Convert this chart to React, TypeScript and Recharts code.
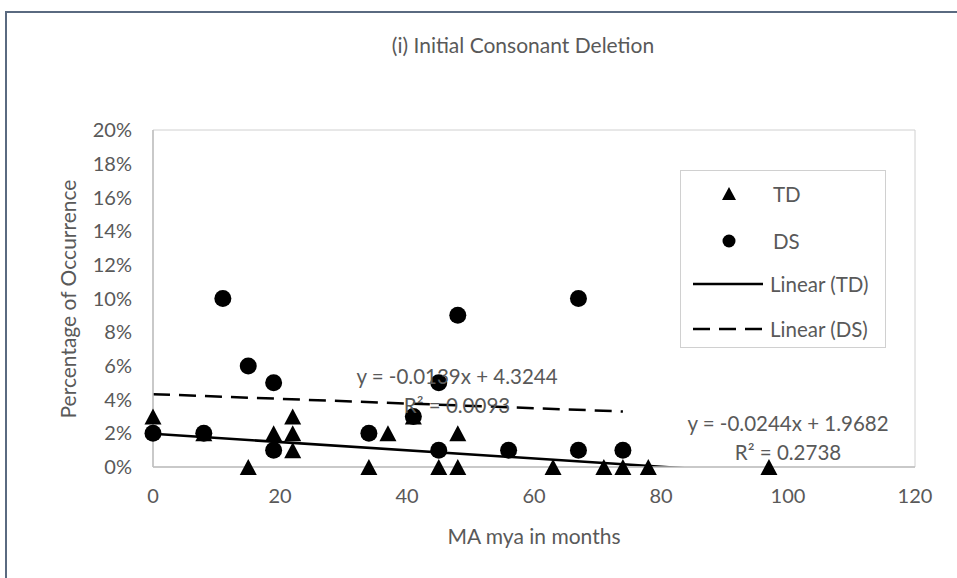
import React from "react";
import { ScatterChart, Scatter, XAxis, YAxis, ReferenceArea, ReferenceLine } from "recharts";

// age (months) and percentage of occurrence for each group
const tdAge = [0, 8, 15, 19, 22, 22, 22, 34, 37, 41, 45, 48, 48, 63, 71, 74, 78, 97];
const tdPct = [3, 2, 0, 2, 3, 2, 1, 0, 2, 3, 0, 2, 0, 0, 0, 0, 0, 0];
const dsAge = [0, 8, 11, 15, 19, 19, 34, 41, 45, 45, 48, 56, 67, 67, 74];
const dsPct = [2, 2, 10, 6, 5, 1, 2, 3, 5, 1, 9, 1, 10, 1, 1];

const xTicks = [0, 20, 40, 60, 80, 100, 120];
const yTicks = [0, 2, 4, 6, 8, 10, 12, 14, 16, 18, 20];

// linear trendline fits as printed on the chart
const tdFit = { slope: -0.0244, intercept: 1.9682, r2: 0.2738 };
const dsFit = { slope: -0.0139, intercept: 4.3244, r2: 0.0093 };

const FONT = "Lato, 'Open Sans', sans-serif";
const TEXT = "#595959";

const W = 957;
const H = 578;
const PLOT = { left: 153, right: 915, top: 130, bottom: 467 };

type Fit = { slope: number; intercept: number; r2: number };

const zip = (xs: number[], ys: number[]) => xs.map((x, i) => ({ x, y: ys[i] }));

// trendline spans the series' x range; the plot clip trims it at y = 0
const fitSegment = (fit: Fit, xs: number[]) => {
  const x0 = Math.min(...xs);
  const x1 = Math.max(...xs);
  return [
    { x: x0, y: fit.slope * x0 + fit.intercept },
    { x: x1, y: fit.slope * x1 + fit.intercept },
  ];
};

const fmtEq = (fit: Fit) =>
  `y = ${fit.slope.toFixed(4)}x + ${fit.intercept.toFixed(4)}`;

const tdPoints = zip(tdAge, tdPct);
const dsPoints = zip(dsAge, dsPct);
const tdLine = fitSegment(tdFit, tdAge);
const dsLine = fitSegment(dsFit, dsAge);

const TriangleMark = (props: any) => {
  const { cx, cy } = props;
  return (
    <path
      d={`M${cx},${cy - 8} L${cx + 8.5},${cy + 8} L${cx - 8.5},${cy + 8} Z`}
      fill="#000"
    />
  );
};

const CircleMark = (props: any) => {
  const { cx, cy } = props;
  return <circle cx={cx} cy={cy} r={8.5} fill="#000" />;
};

const legendRows = [
  { label: "TD", kind: "tri", y: 193 },
  { label: "DS", kind: "dot", y: 240 },
  { label: "Linear (TD)", kind: "solid", y: 283 },
  { label: "Linear (DS)", kind: "dash", y: 328 },
];

const ChartLegend = () => (
  <div
    style={{
      position: "absolute",
      left: 680,
      top: 170,
      width: 206,
      height: 178,
      border: "1px solid #d0d0d0",
      boxSizing: "border-box",
      background: "#fff",
    }}
  >
    {legendRows.map((r) => (
      <div
        key={r.label}
        style={{
          position: "absolute",
          left: 0,
          top: r.y - 170 - 14,
          height: 28,
          width: 206,
        }}
      >
        <svg width={90} height={28} style={{ position: "absolute", left: 0, top: 0 }}>
          {r.kind === "tri" && <path d="M48,7 L55,20 L41,20 Z" fill="#000" />}
          {r.kind === "dot" && <circle cx={48} cy={14} r={6.5} fill="#000" />}
          {r.kind === "solid" && (
            <line x1={12} x2={82} y1={14} y2={14} stroke="#000" strokeWidth={2.5} />
          )}
          {r.kind === "dash" && (
            <line
              x1={12}
              x2={82}
              y1={14}
              y2={14}
              stroke="#000"
              strokeWidth={2.5}
              strokeDasharray="17 9"
            />
          )}
        </svg>
        <span
          style={{
            position: "absolute",
            left: r.kind === "solid" || r.kind === "dash" ? 89 : 92,
            top: 0,
            lineHeight: "28px",
            fontSize: 20.5,
            color: TEXT,
            whiteSpace: "nowrap",
          }}
        >
          {r.label}
        </span>
      </div>
    ))}
  </div>
);

const FitLabel = ({ fit, cx, y }: { fit: Fit; cx: number; y: number }) => (
  <div
    style={{
      position: "absolute",
      left: cx - 150,
      top: y - 14,
      width: 300,
      textAlign: "center",
      fontSize: 20.5,
      lineHeight: "29px",
      color: TEXT,
    }}
  >
    <div>{fmtEq(fit)}</div>
    <div>R² = {fit.r2.toFixed(4)}</div>
  </div>
);

export default function App() {
  return (
    <div
      style={{
        position: "absolute",
        left: 0,
        top: 0,
        width: W,
        height: H,
        background: "#fff",
        overflow: "hidden",
        fontFamily: FONT,
      }}
    >
      {/* chart frame */}
      <div
        style={{
          position: "absolute",
          left: 5,
          top: 11,
          width: 1200,
          height: 1200,
          borderLeft: "2px solid #5a6a80",
          borderTop: "2px solid #5a6a80",
        }}
      />

      <div
        style={{
          position: "absolute",
          left: 0,
          top: 32,
          width: 1046,
          textAlign: "center",
          fontSize: 21,
          color: TEXT,
        }}
      >
        (i) Initial Consonant Deletion
      </div>

      <ScatterChart
        width={W}
        height={H}
        margin={{ top: PLOT.top, right: W - PLOT.right, left: PLOT.left - 60, bottom: H - PLOT.bottom - 40 }}
        style={{ position: "absolute", left: 0, top: 0 }}
      >
        <XAxis
          type="number"
          dataKey="x"
          domain={[0, 120]}
          ticks={xTicks}
          height={40}
          tickLine={false}
          tickSize={0}
          tickMargin={22}
          axisLine={{ stroke: "#bfbfbf", strokeWidth: 1.5 }}
          tick={{ fill: TEXT, fontSize: 20, fontFamily: FONT }}
        />
        <YAxis
          type="number"
          dataKey="y"
          domain={[0, 20]}
          ticks={yTicks}
          width={60}
          tickLine={false}
          tickSize={0}
          tickMargin={21}
          tickFormatter={(v: number) => `${v}%`}
          axisLine={{ stroke: "#bfbfbf", strokeWidth: 1.5 }}
          tick={{ fill: TEXT, fontSize: 20, fontFamily: FONT }}
        />
        <ReferenceArea
          x1={0}
          x2={120}
          y1={0}
          y2={20}
          fill="none"
          stroke="#d0d0d0"
          strokeWidth={1}
        />
        <Scatter
          name="TD"
          data={tdPoints}
          shape={TriangleMark}
          isAnimationActive={false}
        />
        <Scatter
          name="DS"
          data={dsPoints}
          shape={CircleMark}
          isAnimationActive={false}
        />
        <ReferenceLine
          segment={tdLine}
          ifOverflow="hidden"
          stroke="#000"
          strokeWidth={2.5}
        />
        <ReferenceLine
          segment={dsLine}
          ifOverflow="hidden"
          stroke="#000"
          strokeWidth={2.5}
          strokeDasharray="17 9"
        />
      </ScatterChart>

      <div
        style={{
          position: "absolute",
          left: 68 - 150,
          top: (PLOT.top + PLOT.bottom) / 2 - 14,
          width: 300,
          height: 28,
          lineHeight: "28px",
          textAlign: "center",
          transform: "rotate(-90deg)",
          fontSize: 21,
          color: TEXT,
          whiteSpace: "nowrap",
        }}
      >
        Percentage of Occurrence
      </div>

      <div
        style={{
          position: "absolute",
          left: PLOT.left,
          top: 523,
          width: PLOT.right - PLOT.left,
          textAlign: "center",
          fontSize: 21,
          color: TEXT,
        }}
      >
        MA mya in months
      </div>

      <FitLabel fit={dsFit} cx={457} y={376} />
      <FitLabel fit={tdFit} cx={788} y={423} />

      <ChartLegend />
    </div>
  );
}
